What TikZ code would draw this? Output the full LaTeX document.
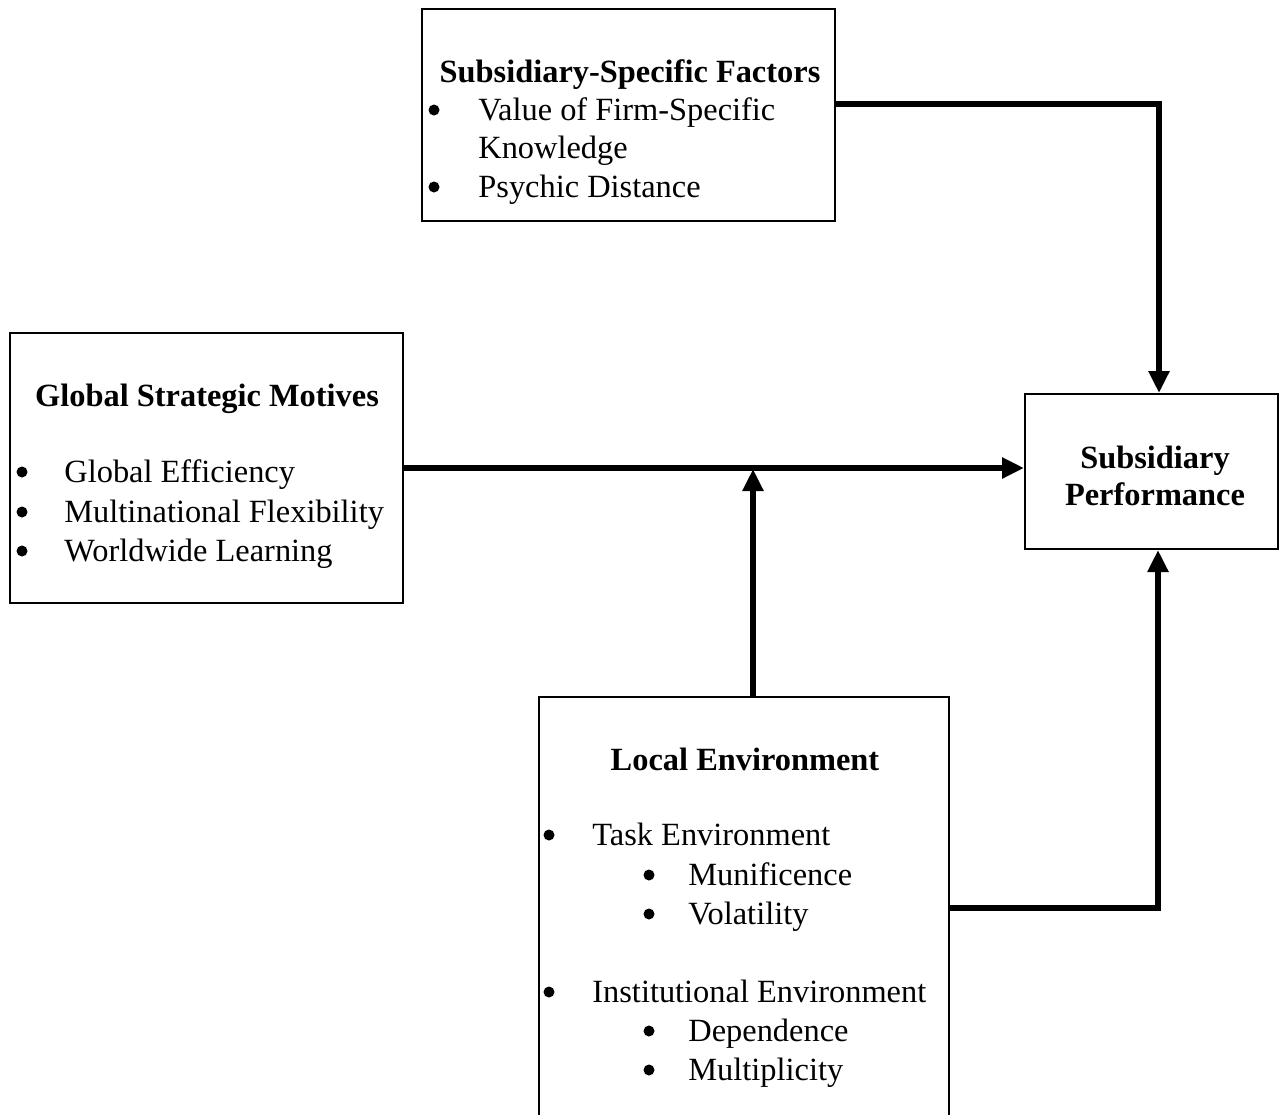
\documentclass[tikz,border=0pt]{standalone}
\usepackage{fontspec}
\setmainfont{Liberation Serif}
\usetikzlibrary{arrows.meta,fit}

\newcommand{\diagfont}{\fontsize{16.2}{19.5}\selectfont}

\tikzset{
  box/.style={draw, line width=1pt, inner sep=0pt},
  head/.style={anchor=base, inner sep=0pt, font=\diagfont\bfseries},
  item/.style={anchor=base west, inner sep=0pt, font=\diagfont},
  link/.style={line width=2.75pt, -{Triangle[length=11pt,width=10pt]}}
}

\begin{document}
\begin{tikzpicture}[x=0.5pt, y=-0.5pt]
\useasboundingbox (0,0) rectangle (1280,1114);
\clip (0,0) rectangle (1280,1114);

% boxes
\node[box, fit={(422,9) (835,221)}] (ssf) {};
\node[box, fit={(10,333) (403,603)}] (gsm) {};
\node[box, fit={(1025,394) (1278,549)}] (sp) {};
\node[box, fit={(539,697) (949,1150)}] (le) {};

% subsidiary-specific factors
\node[head] (ssf-t) at (630,82) {Subsidiary-Specific Factors};
\node[item] (ssf-1) at (478,120) {Value of Firm-Specific};
\node[item] (ssf-2) at (478,158) {Knowledge};
\node[item] (ssf-3) at (478,197) {Psychic Distance};
\foreach \y in {110,187} \fill (434,\y) circle (5.5);

% global strategic motives
\node[head] (gsm-t) at (207,406) {Global Strategic Motives};
\node[item] (gsm-1) at (64,482) {Global Efficiency};
\node[item] (gsm-2) at (64,522) {Multinational Flexibility};
\node[item] (gsm-3) at (64,561) {Worldwide Learning};
\foreach \y in {472,512,551} \fill (22,\y) circle (5.5);

% subsidiary performance
\node[head] (sp-t1) at (1155,468) {Subsidiary};
\node[head] (sp-t2) at (1155,505) {Performance};

% local environment
\node[head] (le-t) at (745,770) {Local Environment};
\node[item] (le-1) at (592,845) {Task Environment};
\node[item] (le-11) at (688,885) {Munificence};
\node[item] (le-12) at (688,924) {Volatility};
\node[item] (le-2) at (592,1002) {Institutional Environment};
\node[item] (le-21) at (688,1041) {Dependence};
\node[item] (le-22) at (688,1080) {Multiplicity};
\foreach \y in {835,992} \fill (549,\y) circle (5.5);
\foreach \y in {875,914,1031,1070} \fill (649,\y) circle (5.5);

% connectors
\coordinate (turnA) at (1159,104);
\coordinate (turnB) at (1158,908);
\coordinate (join) at (753,469);
\draw[link] (ssf.east |- turnA) -- (turnA) -- (turnA |- sp.north);
\draw[link] (gsm.east) -- (gsm.east -| sp.west);
\draw[link] (join |- le.north) -- (join);
\draw[link] (le.east |- turnB) -- (turnB) -- (turnB |- sp.south);
\end{tikzpicture}
\end{document}
